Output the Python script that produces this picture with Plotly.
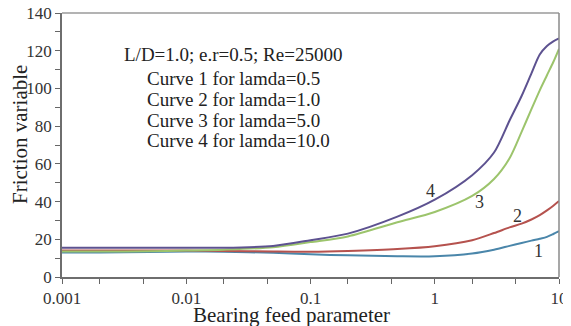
import math
import plotly.graph_objects as go

# ---- data ----
feed = [0.001, 0.002, 0.005, 0.01, 0.02, 0.05, 0.1, 0.2, 0.5, 1, 2, 3, 4, 5, 6, 7, 8, 9, 10]
curve1 = [13.0, 13.0, 13.2, 13.5, 13.4, 12.8, 12.0, 11.5, 11.0, 11.0, 12.5, 14.5, 16.5, 18.0, 19.3, 20.3, 21.3, 22.8, 24.3]
curve2 = [14.0, 14.0, 14.0, 14.0, 13.8, 13.5, 13.4, 13.8, 14.8, 16.3, 19.5, 23.3, 26.3, 28.3, 30.5, 32.8, 35.3, 37.8, 40.3]
curve3 = [13.5, 13.5, 13.6, 14.0, 14.5, 15.8, 18.5, 21.5, 29.0, 34.5, 43.0, 52.0, 63.0, 77.0, 89.0, 99.0, 107.0, 114.0, 121.0]
curve4 = [15.5, 15.5, 15.5, 15.5, 15.5, 16.5, 19.5, 23.0, 32.0, 41.0, 54.0, 66.0, 83.0, 96.0, 108.0, 118.0, 122.5, 125.0, 126.5]

series_names = ["Curve 1", "Curve 2", "Curve 3", "Curve 4"]
series_colors = ["#4a86aa", "#b5524e", "#9cc46c", "#5d5290"]

x_tickvals = [0.001, 0.002, 0.0045, 0.01, 0.02, 0.045, 0.1, 0.2, 0.45, 1, 2, 4.5, 10]
x_ticktext = ["0.001", "", "", "0.01", "", "", "0.1", "", "", "1", "", "", "10"]
y_tickvals = list(range(0, 141, 10))
y_ticktext = [str(v) if v % 20 == 0 else "" for v in y_tickvals]

info_lines = ["L/D=1.0; e.r=0.5; Re=25000",
              "Curve 1 for lamda=0.5",
              "Curve 2 for lamda=1.0",
              "Curve 3 for lamda=5.0",
              "Curve 4 for lamda=10.0"]
curve_labels = ["1", "2", "3", "4"]
label_x = [6.9, 4.67, 2.31, 0.93]
label_y = [13.8, 32.3, 39.8, 45.6]
x_title = "Bearing feed parameter"
y_title = "Friction variable"

FONT = "Liberation Serif, Times New Roman, serif"
OFF = 8  # page body margin of the html
W, H = 571 - OFF, 326 - OFF
L, T = 62 - OFF, 13 - OFF
R = W - (559 - OFF)
B = H - (277 - OFF)
PW, PH = W - L - R, H - T - B


def px_to_paper(px, py):
    return (px - OFF - L) / PW, (H - B - (py - OFF)) / PH


fig = go.Figure()
for name, ys, col in zip(series_names, [curve1, curve2, curve3, curve4], series_colors):
    fig.add_trace(go.Scatter(x=feed, y=ys, mode="lines", name=name,
                             line=dict(color=col, width=2, shape="spline", smoothing=0.8)))

for t, lx, ly in zip(curve_labels, label_x, label_y):
    fig.add_annotation(x=math.log10(lx), y=ly, xref="x", yref="y", text=t, showarrow=False,
                       font=dict(family=FONT, size=18, color="#333"))

line_py = [55, 78, 99, 120, 140]
line_px = [122, 145, 145, 145, 145]
for t, py, px in zip(info_lines, line_py, line_px):
    ax, ay = px_to_paper(px, py)
    fig.add_annotation(x=ax, y=ay, xref="paper", yref="paper",
                       xanchor="left", yanchor="middle", text=t, showarrow=False,
                       font=dict(family=FONT, size=19, color="#222"))

# axis titles
ax, ay = px_to_paper(291, 315)
fig.add_annotation(x=ax, y=ay, xref="paper", yref="paper",
                   xanchor="center", yanchor="middle", text=x_title, showarrow=False,
                   font=dict(family=FONT, size=21, color="#222"))
ax, ay = px_to_paper(20, 135)
fig.add_annotation(x=ax, y=ay, xref="paper", yref="paper",
                   xanchor="center", yanchor="middle", text=y_title, showarrow=False, textangle=-90,
                   font=dict(family=FONT, size=21, color="#222"))

# lighter top / right frame lines
fig.add_shape(type="line", xref="paper", yref="paper", x0=0, x1=1, y0=1, y1=1,
              line=dict(color="#9a9a9a", width=1.5))
fig.add_shape(type="line", xref="paper", yref="paper", x0=1, x1=1, y0=0, y1=1,
              line=dict(color="#8a8a8a", width=1.5))

fig.update_layout(
    width=W, height=H,
    margin=dict(l=L, r=R, t=T, b=B, autoexpand=False),
    paper_bgcolor="white", plot_bgcolor="white",
    showlegend=False,
    font=dict(family=FONT, size=17, color="#333"),
)
fig.update_xaxes(type="log", range=[-3, 1], tickmode="array", tickvals=x_tickvals, ticktext=x_ticktext,
                 ticks="outside", ticklen=5, tickcolor="#666", showline=True, linecolor="#6e6e6e",
                 linewidth=1.5, mirror=False, showgrid=False, zeroline=False, automargin=False,
                 ticklabeloverflow="allow")
fig.update_yaxes(range=[0, 140], tickmode="array", tickvals=y_tickvals, ticktext=y_ticktext,
                 ticks="outside", ticklen=5, tickcolor="#666", showline=True, linecolor="#6e6e6e",
                 linewidth=1.5, mirror=False, showgrid=False, zeroline=False, automargin=False,
                 ticklabeloverflow="allow")

fig.write_html("out.html")
